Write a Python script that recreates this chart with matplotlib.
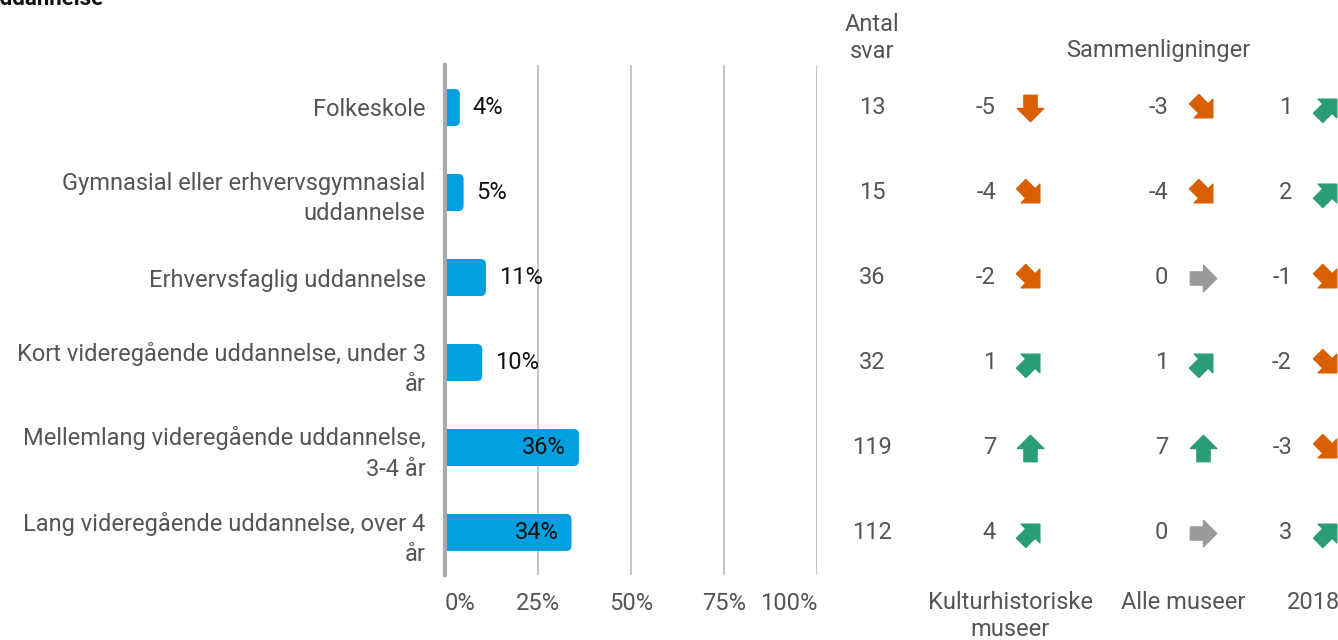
import matplotlib
matplotlib.use('Agg')
import matplotlib.pyplot as plt
from matplotlib.patches import FancyBboxPatch
from matplotlib.path import Path
from matplotlib.markers import MarkerStyle
from matplotlib.transforms import Affine2D, blended_transform_factory

plt.rcParams['font.family'] = ['Roboto', 'DejaVu Sans']

# data
categories = ['Folkeskole',
              'Gymnasial eller erhvervsgymnasial\nuddannelse',
              'Erhvervsfaglig uddannelse',
              'Kort videregående uddannelse, under 3\når',
              'Mellemlang videregående uddannelse,\n3-4 år',
              'Lang videregående uddannelse, over 4\når']
shares = [4, 5, 11, 10, 36, 34]
counts = [13, 15, 36, 32, 119, 112]
cmp_kultur = [-5, -4, -2, 1, 7, 4]
cmp_alle = [-3, -4, 0, 1, 7, 0]
cmp_2018 = [1, 2, -1, -2, -3, 3]
cmp_labels = ['Kulturhistoriske\nmuseer', 'Alle museer', '2018']
x_ticks = [0, 25, 50, 75, 100]

W, H = 1338, 640
FS = 17
BLUE = '#009fe0'
GREEN = '#2a9d74'
ORANGE = '#d95f02'
GREY_ARROW = '#9a9a9a'
TXT = '#555555'

fig = plt.figure(figsize=(W / 100, H / 100), dpi=100)
ax = fig.add_axes([445 / W, 65 / H, 372 / W, 510 / H])

y = list(range(len(categories)))
bars = ax.barh(y, shares, height=0.435, color=BLUE, zorder=3)
for b in bars:
    x0, y0, w, h = b.get_x(), b.get_y(), b.get_width(), b.get_height()
    ax.add_patch(FancyBboxPatch((x0, y0), w, h,
                                boxstyle='round,pad=0,rounding_size=1.4',
                                mutation_aspect=3.72 / 85,
                                fc=BLUE, ec='none', zorder=3))
    b.set_width(w / 2)

for yi, v in zip(y, shares):
    if v > 30:
        ax.text(v - 3.5, yi, '%d%%' % v, ha='right', va='center',
                fontsize=FS, color='#111111', zorder=4)
    else:
        ax.text(v + 3.5, yi, '%d%%' % v, ha='left', va='center',
                fontsize=FS, color='#111111', zorder=4)

ax.set_xlim(0, 100)
ax.set_ylim(5.5, -0.5)
ax.set_xticks(x_ticks)
ax.set_xticklabels(['%d%%' % t for t in x_ticks])
ax.set_yticks(y)
ax.set_yticklabels(categories, linespacing=1.4)
ax.tick_params(axis='both', length=0, labelsize=FS, labelcolor=TXT)
ax.tick_params(axis='x', pad=12)
ax.tick_params(axis='y', pad=14)
for lab in ax.get_yticklabels():
    lab.set_horizontalalignment('right')
xl = ax.get_xticklabels()
xl[0].set_horizontalalignment('left')
xl[-1].set_horizontalalignment('right')
ax.grid(axis='x', color='#bbbbbb', linewidth=1.2, zorder=0)
for s in ['top', 'right', 'bottom']:
    ax.spines[s].set_visible(False)
ax.spines['left'].set_color('#aaaaaa')
ax.spines['left'].set_linewidth(3)
ax.spines['left'].set_zorder(5)

tr = blended_transform_factory(fig.transFigure, ax.transData)

# counts column
for yi, c in zip(y, counts):
    ax.text(872 / W, yi, str(c), transform=tr, ha='center', va='center',
            fontsize=FS, color=TXT, clip_on=False)

# arrow marker (pointing up)
arrow = Path([(-0.25, -0.5), (0.25, -0.5), (0.25, 0.0), (0.5, 0.0),
              (0.0, 0.5), (-0.5, 0.0), (-0.25, 0.0), (-0.25, -0.5)],
             [Path.MOVETO] + [Path.LINETO] * 6 + [Path.CLOSEPOLY])


def arrow_style(v):
    if v >= 5:
        ang, col = 0, GREEN
    elif v > 0:
        ang, col = -45, GREEN
    elif v == 0:
        ang, col = -90, GREY_ARROW
    elif v > -5:
        ang, col = -135, ORANGE
    else:
        ang, col = 180, ORANGE
    return MarkerStyle(arrow, transform=Affine2D().rotate_deg(ang)), col


columns = [(cmp_kultur, 996, 1030), (cmp_alle, 1168, 1203), (cmp_2018, 1292, 1327)]
for vals, xn, xa in columns:
    for yi, v in zip(y, vals):
        ax.text(xn / W, yi, str(v), transform=tr, ha='right', va='center',
                fontsize=FS, color=TXT, clip_on=False)
        m, col = arrow_style(v)
        ax.plot([xa / W], [yi], transform=tr, marker=m, markersize=19,
                color=col, linestyle='none', clip_on=False)

# headers
fig.text(872 / W, 1 - 38 / H, 'Antal\nsvar', ha='center', va='center',
         fontsize=FS, color=TXT, linespacing=1.25)
fig.text(1158 / W, 1 - 51 / H, 'Sammenligninger', ha='center', va='center',
         fontsize=FS, color=TXT)
for lab, xc in zip(cmp_labels, [1010, 1183, 1313]):
    fig.text(xc / W, 1 - 591 / H, lab, ha='center', va='top',
             fontsize=FS, color=TXT, linespacing=1.25)

fig.text(-14 / W, 1 + 1 / H, 'Uddannelse', ha='left', va='center',
         fontsize=16, fontweight='bold', color='#111111')

fig.savefig('out.png', dpi=100)
